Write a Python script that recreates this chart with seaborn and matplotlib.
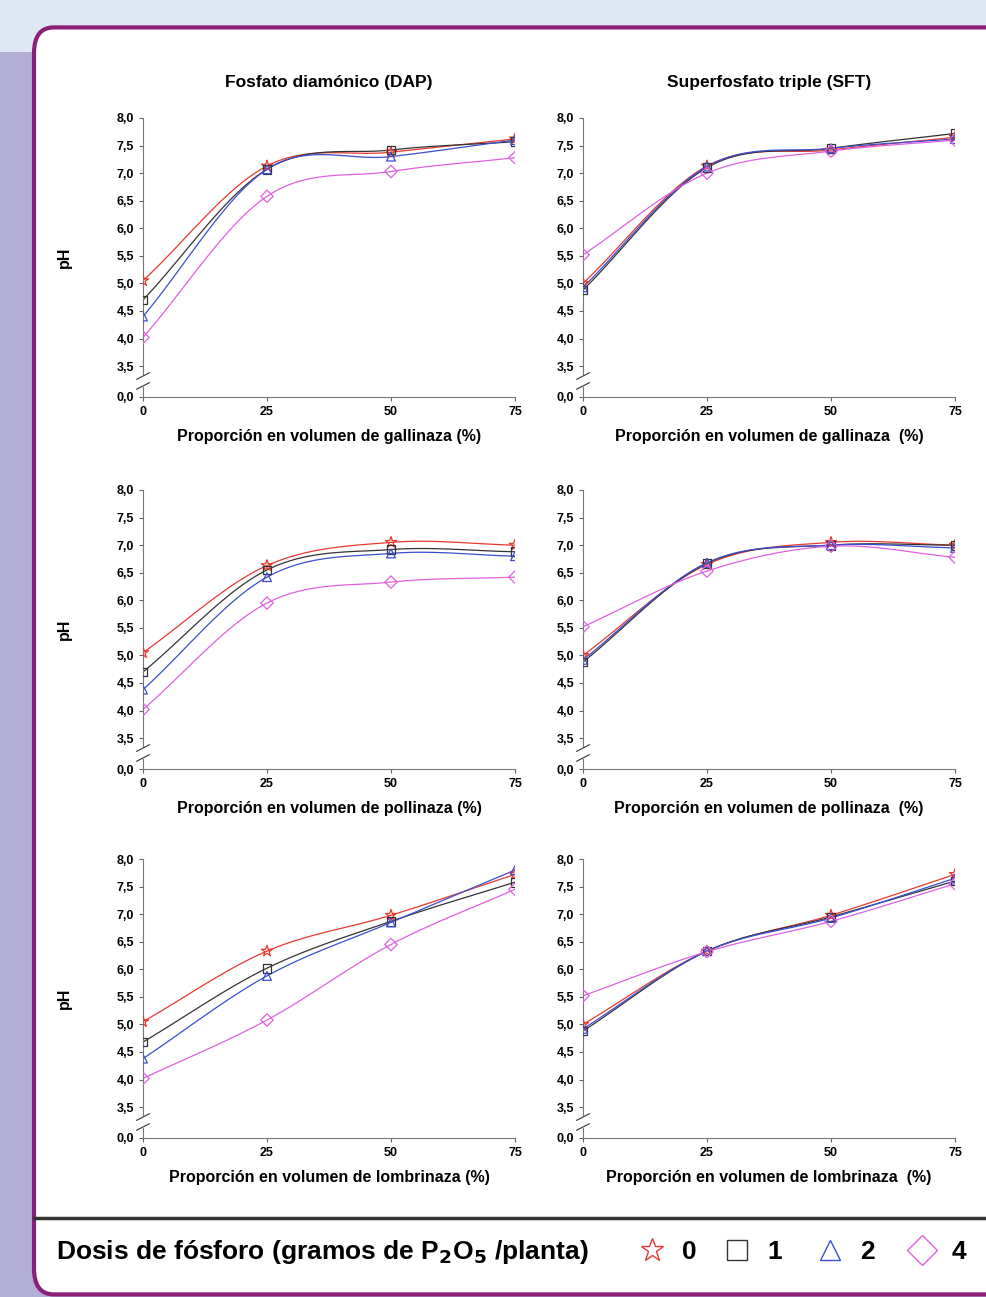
import numpy as np
import matplotlib
matplotlib.use("Agg")
import matplotlib.pyplot as plt
import seaborn as sns
import pandas as pd
from matplotlib.patches import FancyBboxPatch, Rectangle
from matplotlib.lines import Line2D

proportion = [0, 25, 50, 75]
doses = ["0", "1", "2", "4"]
colors = {"0": "#e8392f", "1": "#333333", "2": "#3a4fd0", "4": "#e060e0"}
markers = {"0": "*", "1": "s", "2": "^", "4": "D"}

# ph[panel][dose] -> values at 0,25,50,75
dap_gallinaza = {"0": [5.05, 7.13, 7.38, 7.62], "1": [4.70, 7.07, 7.42, 7.57],
                 "2": [4.40, 7.07, 7.30, 7.60], "4": [4.02, 6.58, 7.03, 7.28]}
sft_gallinaza = {"0": [5.00, 7.13, 7.42, 7.65], "1": [4.88, 7.10, 7.45, 7.72],
                 "2": [4.93, 7.12, 7.45, 7.62], "4": [5.52, 7.00, 7.40, 7.60]}
dap_pollinaza = {"0": [5.05, 6.63, 7.05, 7.00], "1": [4.70, 6.55, 6.92, 6.88],
                 "2": [4.38, 6.42, 6.85, 6.80], "4": [4.02, 5.95, 6.33, 6.42]}
sft_pollinaza = {"0": [5.00, 6.65, 7.05, 7.00], "1": [4.88, 6.67, 7.00, 7.00],
                 "2": [4.92, 6.68, 7.00, 6.95], "4": [5.52, 6.53, 6.98, 6.78]}
dap_lombrinaza = {"0": [5.05, 6.33, 6.98, 7.72], "1": [4.68, 6.02, 6.87, 7.58],
                  "2": [4.38, 5.88, 6.85, 7.80], "4": [4.02, 5.08, 6.45, 7.45]}
sft_lombrinaza = {"0": [5.00, 6.33, 6.98, 7.72], "1": [4.88, 6.33, 6.95, 7.60],
                  "2": [4.92, 6.33, 6.93, 7.65], "4": [5.52, 6.32, 6.87, 7.55]}

panels = [
    (dap_gallinaza, "Proporción en volumen de gallinaza (%)"),
    (sft_gallinaza, "Proporción en volumen de gallinaza  (%)"),
    (dap_pollinaza, "Proporción en volumen de pollinaza (%)"),
    (sft_pollinaza, "Proporción en volumen de pollinaza  (%)"),
    (dap_lombrinaza, "Proporción en volumen de lombrinaza (%)"),
    (sft_lombrinaza, "Proporción en volumen de lombrinaza  (%)"),
]
yticks = [3.5, 4.0, 4.5, 5.0, 5.5, 6.0, 6.5, 7.0, 7.5, 8.0]
zero_pos = 2.94  # position of the "0,0" tick below the axis break


def smooth(x, y, n=30):
    # Catmull-Rom spline through the points (Excel-style smoothed line)
    x = np.asarray(x, float); y = np.asarray(y, float)
    px = np.concatenate([[2 * x[0] - x[1]], x, [2 * x[-1] - x[-2]]])
    py = np.concatenate([[2 * y[0] - y[1]], y, [2 * y[-1] - y[-2]]])
    xs, ys = [], []
    for i in range(1, len(px) - 2):
        t = np.linspace(0, 1, n)
        for p, out in ((px, xs), (py, ys)):
            p0, p1, p2, p3 = p[i - 1:i + 3]
            out.extend(0.5 * (2 * p1 + (-p0 + p2) * t + (2 * p0 - 5 * p1 + 4 * p2 - p3) * t ** 2
                              + (-p0 + 3 * p1 - 3 * p2 + p3) * t ** 3))
    return np.array(xs), np.array(ys)


sns.set_style("white")
plt.rcParams["font.family"] = ["Liberation Sans", "DejaVu Sans"]
plt.rcParams["text.color"] = "black"
plt.rcParams["axes.labelcolor"] = "black"
plt.rcParams["xtick.color"] = "black"
plt.rcParams["ytick.color"] = "black"
fig = plt.figure(figsize=(9.87, 12.97), dpi=100, facecolor="#b3aed3")
W, H = 987, 1297
fig.patches.append(Rectangle((0, 0.96), 1, 0.04, transform=fig.transFigure,
                             facecolor="#dfe7f5", edgecolor="none", zorder=-3))
fig.patches.append(FancyBboxPatch((34 / W, 0.002), 1.0, (1297 - 30) / H, transform=fig.transFigure,
                                  boxstyle="round,pad=0,rounding_size=0.02", facecolor="white",
                                  edgecolor="#8a1f78", linewidth=3, zorder=-2))

lefts = [143, 583]
tops = [118, 490, 859]
aw, ah = 372, 279
for k, (data, xlabel) in enumerate(panels):
    r, c = divmod(k, 2)
    ax = fig.add_axes([lefts[c] / W, 1 - (tops[r] + ah) / H, aw / W, ah / H])
    ax.set_facecolor("none")
    rows = []
    for d in doses:
        sx, sy = smooth(proportion, data[d])
        ax.plot(sx, sy, color=colors[d], lw=0.9, zorder=2)
        for x, v in zip(proportion, data[d]):
            rows.append({"x": x, "pH": v, "dosis": d})
    df = pd.DataFrame(rows)
    for d in doses:
        sub = df[df.dosis == d]
        sns.scatterplot(data=sub, x="x", y="pH", ax=ax, marker=markers[d],
                        s=70 if d == "0" else 40, facecolor="none", edgecolor=colors[d],
                        linewidth=0.9, zorder=3, legend=False)
    ax.set_xlim(0, 75)
    ax.set_ylim(zero_pos, 8.0)
    ax.set_xticks(proportion)
    ax.set_xticklabels([str(p) for p in proportion], fontsize=9, fontweight="bold")
    ax.set_yticks([zero_pos] + yticks)
    ax.set_yticklabels(["0,0"] + [f"{v:.1f}".replace(".", ",") for v in yticks],
                       fontsize=9, fontweight="bold")
    ax.tick_params(axis="both", length=3, color="#666666", direction="out", left=True, bottom=True)
    for s in ["top", "right"]:
        ax.spines[s].set_visible(False)
    for s in ["left", "bottom"]:
        ax.spines[s].set_color("#777777")
    ax.set_xlabel(xlabel, fontsize=11.5, fontweight="bold", labelpad=8)
    ax.set_ylabel("pH" if c == 0 else "", fontsize=11.5, fontweight="bold", labelpad=32)
    # axis break marks
    ax.add_patch(Rectangle((-2, 3.12), 4, 0.22, facecolor="white", edgecolor="none",
                           clip_on=False, zorder=4))
    for yb in (3.14, 3.32):
        ax.plot([-1.3, 1.3], [yb - 0.06, yb + 0.06], color="#444444", lw=0.9, clip_on=False, zorder=5)
    if r == 0:
        ax.set_title(["Fosfato diamónico (DAP)", "Superfosfato triple (SFT)"][c],
                     fontsize=12.5, fontweight="bold", pad=22)

fig.add_artist(Line2D([34 / W, 1], [1 - 1218 / H] * 2, color="#333333", lw=2.5))
fig.text(56 / W, 1 - 1252 / H, r"Dosis de fósforo (gramos de P$_\mathbf{2}$O$_\mathbf{5}$ /planta)",
         fontsize=19, fontweight="bold", va="center")
lx = [652, 737, 830, 922]
for d, x in zip(doses, lx):
    fig.add_artist(Line2D([x / W], [1 - 1250 / H], marker=markers[d], markersize=17 if d == "0" else 15,
                          markerfacecolor="none", markeredgecolor=colors[d], markeredgewidth=1))
    fig.text((x + 30) / W, 1 - 1252 / H, d, fontsize=19, fontweight="bold", va="center")

fig.savefig("out.png", dpi=100, facecolor=fig.get_facecolor())
